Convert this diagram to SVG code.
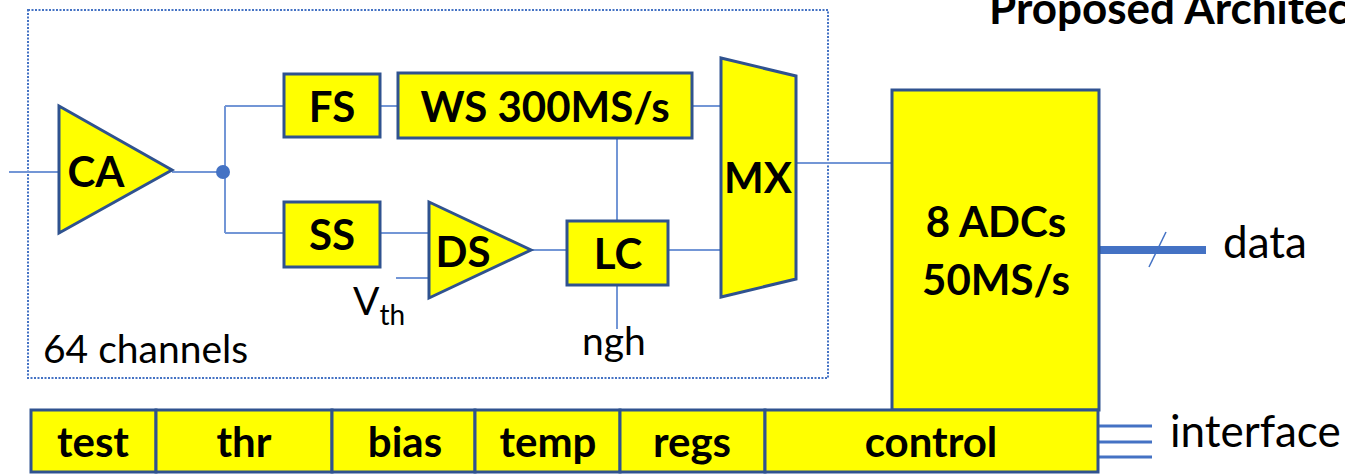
<svg xmlns="http://www.w3.org/2000/svg" width="1345" height="475" viewBox="0 0 1345 475">
<style>
.blk{fill:#FFFF00;stroke:#2F528F;stroke-width:3}
.w{fill:none;stroke:#7396D6;stroke-width:2}
.lb{font-family:Lato,"Liberation Sans",sans-serif;font-weight:bold;font-size:42px;fill:#000;text-anchor:middle}
.tx{font-family:Lato,"Liberation Sans",sans-serif;font-size:39px;fill:#000}
.tl{font-family:Lato,"Liberation Sans",sans-serif;font-size:44px;fill:#000}
</style>
<rect width="1345" height="475" fill="#fff"/>
<text x="989" y="24" style="font-family:Lato,'Liberation Sans',sans-serif;font-weight:bold;font-size:44px">Proposed Architecture</text>
<rect x="28" y="10" width="800" height="368" fill="none" stroke="#4472C4" stroke-width="2" stroke-dasharray="2 1.5"/>
<g id="connectors">
<path class="w" d="M9 172H59M172 172H223M225 106V233M225 106H284M380 106H398M692 106H721M225 233H284M380 233H429M396 278H429M531 250H567M668 250H721M617 138V221M617 285V329M796 163H892"/>
<circle cx="223" cy="172" r="7" fill="#4472C4"/>
<path d="M1099 250H1206" stroke="#4472C4" stroke-width="8"/>
<path d="M1149 267L1166 232" stroke="#4472C4" stroke-width="1.5"/>
<path d="M1099 426H1152M1099 442H1152M1099 457H1152" stroke="#4472C4" stroke-width="3"/>
</g>
<g id="CA"><polygon class="blk" points="59,106 172,170 59,233"/><text class="lb" x="96" y="187">CA</text></g>
<g id="FS"><rect class="blk" x="284" y="74" width="96" height="63"/><text class="lb" x="332" y="122">FS</text></g>
<g id="WS"><rect class="blk" x="398" y="73" width="294" height="65"/><text class="lb" x="545" y="122">WS 300MS/s</text></g>
<g id="SS"><rect class="blk" x="284" y="202" width="96" height="65"/><text class="lb" x="332" y="250">SS</text></g>
<g id="DS"><polygon class="blk" points="429,202 531,250 429,298"/><text class="lb" x="463" y="267">DS</text></g>
<g id="LC"><rect class="blk" x="567" y="221" width="101" height="64"/><text class="lb" x="618" y="269">LC</text></g>
<g id="MX"><polygon class="blk" points="721,58 796,76 796,279 721,297"/><text class="lb" x="758" y="193">MX</text></g>
<g id="ADC"><rect class="blk" x="892" y="90" width="207" height="320"/><text class="lb" x="996" y="237">8 ADCs</text><text class="lb" x="996" y="295">50MS/s</text></g>
<g id="bar">
<rect class="blk" x="31" y="410" width="125" height="62"/><text class="lb" x="93" y="457">test</text>
<rect class="blk" x="156" y="410" width="176" height="62"/><text class="lb" x="244" y="457">thr</text>
<rect class="blk" x="332" y="410" width="143" height="62"/><text class="lb" x="405" y="457">bias</text>
<rect class="blk" x="475" y="410" width="145" height="62"/><text class="lb" x="548" y="457">temp</text>
<rect class="blk" x="620" y="410" width="145" height="62"/><text class="lb" x="692" y="457">regs</text>
<rect class="blk" x="765" y="410" width="333" height="62"/><text class="lb" x="931" y="457">control</text>
</g>
<text class="tx" x="43" y="363">64 channels</text>
<text class="tx" x="353" y="315">V<tspan font-size="28" dy="10">th</tspan></text>
<text class="tx" x="582" y="355">ngh</text>
<text class="tl" x="1223" y="258">data</text>
<text class="tl" x="1170" y="447">interface</text>
</svg>
